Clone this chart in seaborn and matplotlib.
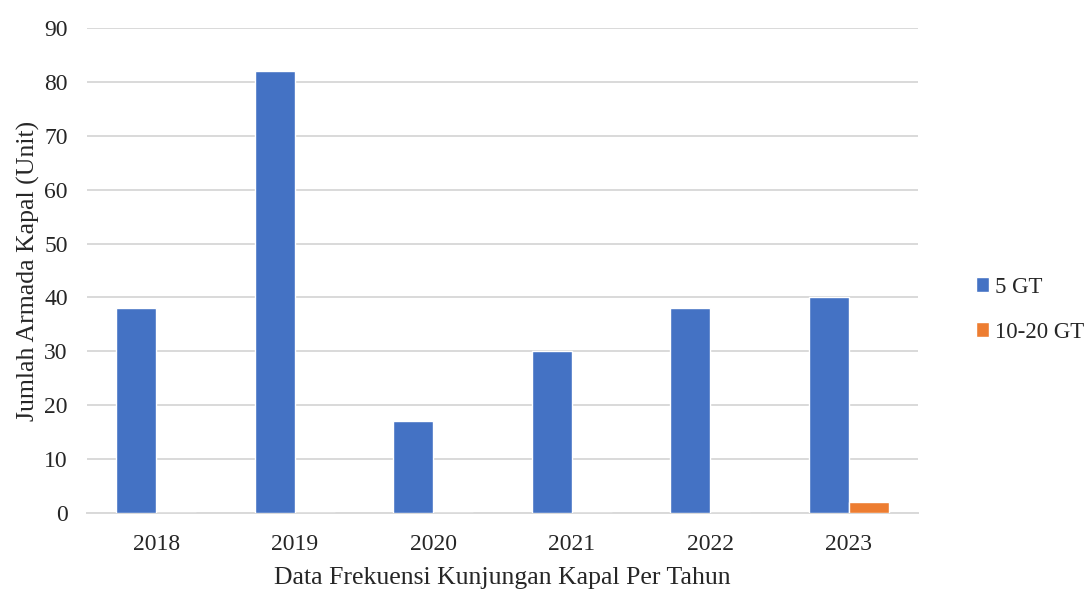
import matplotlib
matplotlib.use("Agg")
import matplotlib.pyplot as plt
import pandas as pd
import seaborn as sns

# Data
years = ["2018", "2019", "2020", "2021", "2022", "2023"]
gt5 = [38, 82, 17, 30, 38, 40]
gt10_20 = [0, 0, 0, 0, 0, 2]
series_names = ["5 GT", "10-20 GT"]
colors = ["#4472C4", "#ED7D31"]

df = pd.DataFrame({
    "Tahun": years * 2,
    "Jumlah": gt5 + gt10_20,
    "Kelas": [series_names[0]] * len(years) + [series_names[1]] * len(years),
})

sns.set_theme(style="white")
plt.rcParams["font.family"] = ["Liberation Serif", "DejaVu Serif"]

fig = plt.figure(figsize=(10.89, 5.90), dpi=100)
ax = fig.add_axes([0.080, 0.1305, 0.763, 0.822])

sns.barplot(data=df, x="Tahun", y="Jumlah", hue="Kelas",
            palette=colors, width=0.578, saturation=1,
            errorbar=None, ax=ax, zorder=3)

ax.set_ylim(0, 90)
ax.set_yticks(range(0, 91, 10))
ax.yaxis.grid(True, color="#d9d9d9", linewidth=1.4, zorder=0)
ax.set_axisbelow(True)
for side in ["left", "right", "top"]:
    ax.spines[side].set_visible(False)
ax.spines["bottom"].set_color("#d9d9d9")
ax.spines["bottom"].set_linewidth(1.4)
ax.tick_params(axis="both", length=0, labelsize=17, colors="#262626")
ax.tick_params(axis="x", pad=15)
ax.tick_params(axis="y", pad=14)

ax.set_xlabel("Data Frekuensi Kunjungan Kapal Per Tahun", fontsize=18.5,
              color="#262626", labelpad=9)
ax.set_ylabel("Jumlah Armada Kapal (Unit)", fontsize=18.5, color="#262626",
              labelpad=3)

handles, labels = ax.get_legend_handles_labels()
ax.legend(handles, labels, loc="center left", bbox_to_anchor=(0.896, 0.475),
          bbox_transform=fig.transFigure, frameon=False, fontsize=16.5,
          handlelength=0.6, handleheight=0.6, handletextpad=0.25,
          labelspacing=1.05, labelcolor="#262626", borderpad=0,
          borderaxespad=0)

fig.savefig("out.png", dpi=100)
